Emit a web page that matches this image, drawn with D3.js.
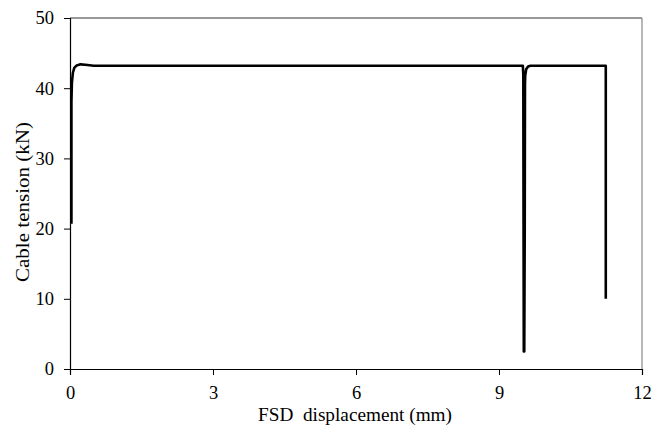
<!DOCTYPE html>
<html>
<head>
<meta charset="utf-8">
<script src="https://cdn.jsdelivr.net/npm/d3@7"></script>
<style>
  body { margin: 0; background: #fff; }
</style>
</head>
<body>
<div id="chart"></div>
<script>
/* CONSTANTS */
const width = 663;
const height = 432;
const margin = { top: 18, right: 21, bottom: 63, left: 70 };
const serif = "'Liberation Serif', 'Times New Roman', Times, 'DejaVu Serif', serif";

/* DATA */
const dispMm = [0.03, 0.03, 0.04, 0.06, 0.09, 0.14, 0.22, 0.32, 0.5, 9.50, 9.51, 9.515, 9.52, 9.53, 9.54, 9.545, 9.55, 9.57, 9.61, 9.66, 11.24, 11.24];
const tensionKN = [20.7, 38.0, 40.8, 42.2, 42.9, 43.25, 43.4, 43.35, 43.2, 43.2, 42.0, 20.0, 2.5, 2.5, 20.0, 40.5, 41.8, 42.7, 43.1, 43.2, 43.2, 10.0];
const xTicks = [0, 3, 6, 9, 12];
const yTicks = [0, 10, 20, 30, 40, 50];

const svg = d3.select("#chart")
  .append("svg")
  .attr("width", width)
  .attr("height", height);

/* SCALES */
const xScale = d3.scaleLinear()
  .domain([0, 12])
  .range([margin.left, width - margin.right]);

const yScale = d3.scaleLinear()
  .domain([0, 50])
  .range([height - margin.bottom, margin.top]);

/* frame (top + right) */
svg.append("line")
  .attr("x1", xScale(0)).attr("x2", xScale(12))
  .attr("y1", yScale(50)).attr("y2", yScale(50))
  .attr("stroke", "#333").attr("stroke-width", 1);
svg.append("line")
  .attr("x1", xScale(12)).attr("x2", xScale(12))
  .attr("y1", yScale(50)).attr("y2", yScale(0))
  .attr("stroke", "#888").attr("stroke-width", 1.2);

/* AXES */
const xAxis = svg.append("g")
  .attr("transform", `translate(0, ${yScale(0)})`)
  .call(d3.axisBottom(xScale).tickValues(xTicks).tickSize(6).tickPadding(11));

const yAxis = svg.append("g")
  .attr("transform", `translate(${xScale(0)}, 0)`)
  .call(d3.axisLeft(yScale).tickValues(yTicks).tickSize(6).tickPadding(10));

[xAxis, yAxis].forEach(ax => {
  ax.attr("font-family", null).attr("font-size", null);
  ax.select(".domain").attr("stroke", "#000").attr("stroke-width", 1.2);
  ax.selectAll(".tick line").attr("stroke", "#000");
  ax.selectAll(".tick text")
    .style("font-family", serif)
    .style("font-size", "18.5px")
    .attr("fill", "#000");
});

/* LINE */
const pts = dispMm.map((d, i) => [d, tensionKN[i]]);
const lineGen = d3.line()
  .x(d => xScale(d[0]))
  .y(d => yScale(d[1]));

svg.append("path")
  .datum(pts)
  .attr("d", lineGen)
  .attr("fill", "none")
  .attr("stroke", "#000")
  .attr("stroke-width", 2.6)
  .attr("stroke-linejoin", "round");

/* AXIS TITLES */
svg.append("text")
  .attr("x", 355)
  .attr("y", 421)
  .attr("text-anchor", "middle")
  .attr("textLength", 194)
  .attr("lengthAdjust", "spacingAndGlyphs")
  .style("font-family", serif)
  .style("font-size", "18px")
  .text("FSD\u00a0 displacement (mm)");

svg.append("text")
  .attr("transform", "translate(29, 202) rotate(-90)")
  .attr("text-anchor", "middle")
  .attr("textLength", 160)
  .attr("lengthAdjust", "spacingAndGlyphs")
  .style("font-family", serif)
  .style("font-size", "18.5px")
  .text("Cable tension (kN)");
</script>
</body>
</html>
